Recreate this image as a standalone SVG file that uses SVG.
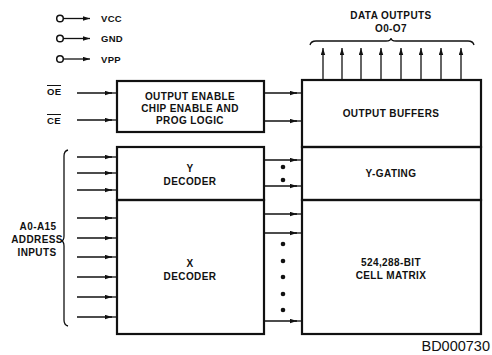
<svg xmlns="http://www.w3.org/2000/svg" width="492" height="355" viewBox="0 0 492 355">
<defs>
<style>
.box{fill:none;stroke:#111;stroke-width:2.2}
.ln{fill:none;stroke:#111;stroke-width:1.3}
.t{font-family:"Liberation Sans",Arial,sans-serif;font-weight:bold;font-size:10px;letter-spacing:0.4px;fill:#111;text-anchor:middle}
.s{font-family:"Liberation Sans",Arial,sans-serif;font-weight:bold;font-size:9.5px;letter-spacing:0.3px;fill:#111}
.dot{fill:#111}
</style>
<marker id="arr" viewBox="0 0 7 5" refX="7" refY="2.5" markerWidth="7" markerHeight="5" markerUnits="userSpaceOnUse" orient="auto">
<path d="M0,0.3 L7,2.5 L0,4.7 Z" fill="#111"/>
</marker>
</defs>
<rect width="492" height="355" fill="#fff"/>

<g id="power">
<circle cx="60" cy="18.5" r="3.3" fill="none" stroke="#111" stroke-width="1.5"/>
<circle cx="60" cy="38.5" r="3.3" fill="none" stroke="#111" stroke-width="1.5"/>
<circle cx="60" cy="59" r="3.3" fill="none" stroke="#111" stroke-width="1.5"/>
<text class="s" x="101" y="22">VCC</text>
<text class="s" x="101" y="42">GND</text>
<text class="s" x="101" y="62.5">VPP</text>
</g>

<g id="labels">
<text class="s" x="47" y="95">OE</text>
<line x1="47" y1="85.5" x2="61" y2="85.5" stroke="#111" stroke-width="1"/>
<text class="s" x="47" y="124">CE</text>
<line x1="47" y1="114.5" x2="61" y2="114.5" stroke="#111" stroke-width="1"/>
<text class="t" x="38" y="230">A0-A15</text>
<text class="t" x="37" y="243">ADDRESS</text>
<text class="t" x="37" y="256">INPUTS</text>
<text class="t" x="391" y="19">DATA OUTPUTS</text>
<text class="t" x="391" y="32">O0-O7</text>
<path class="ln" d="M68,150 Q64,151 64,156 L64,236 Q64,241 61,241 Q64,241 64,246 L64,320 Q64,325 68,326"/>
<path class="ln" d="M310,45 Q311,41 316,41 L386,41 Q391,41 391,38 Q391,41 396,41 L468,41 Q473,41 474,45"/>
</g>

<g id="logic">
<rect class="box" x="117" y="81" width="147" height="51"/>
<text class="t" x="190" y="100">OUTPUT ENABLE</text>
<text class="t" x="190" y="112">CHIP ENABLE AND</text>
<text class="t" x="190" y="124">PROG LOGIC</text>
</g>
<g id="ydecoder">
<rect class="box" x="117" y="147" width="147" height="53"/>
<text class="t" x="190" y="172">Y</text>
<text class="t" x="190" y="185">DECODER</text>
</g>
<g id="xdecoder">
<rect class="box" x="117" y="200" width="147" height="134"/>
<text class="t" x="190" y="267">X</text>
<text class="t" x="190" y="280">DECODER</text>
</g>
<g id="buffers">
<rect class="box" x="302" y="80" width="179" height="67"/>
<text class="t" x="391" y="117">OUTPUT BUFFERS</text>
</g>
<g id="ygating">
<rect class="box" x="302" y="147" width="179" height="53"/>
<text class="t" x="391" y="177">Y-GATING</text>
</g>
<g id="matrix">
<rect class="box" x="302" y="200" width="179" height="134"/>
<text class="t" x="391" y="266">524,288-BIT</text>
<text class="t" x="391" y="279">CELL MATRIX</text>
</g>

<g id="connectors">
<line class="ln" x1="63.5" y1="18.5" x2="90" y2="18.5" marker-end="url(#arr)"/>
<line class="ln" x1="63.5" y1="38.5" x2="90" y2="38.5" marker-end="url(#arr)"/>
<line class="ln" x1="63.5" y1="59" x2="90" y2="59" marker-end="url(#arr)"/>
<line class="ln" x1="77" y1="93" x2="112" y2="93" marker-end="url(#arr)"/><line class="ln" x1="110" y1="93" x2="117" y2="93"/>
<line class="ln" x1="77" y1="120" x2="112" y2="120" marker-end="url(#arr)"/><line class="ln" x1="110" y1="120" x2="117" y2="120"/>
<g>
<line class="ln" x1="77" y1="157" x2="112" y2="157" marker-end="url(#arr)"/><line class="ln" x1="110" y1="157" x2="117" y2="157"/>
<line class="ln" x1="77" y1="173" x2="112" y2="173" marker-end="url(#arr)"/><line class="ln" x1="110" y1="173" x2="117" y2="173"/>
<line class="ln" x1="77" y1="190" x2="112" y2="190" marker-end="url(#arr)"/><line class="ln" x1="110" y1="190" x2="117" y2="190"/>
<line class="ln" x1="77" y1="218" x2="112" y2="218" marker-end="url(#arr)"/><line class="ln" x1="110" y1="218" x2="117" y2="218"/>
<line class="ln" x1="77" y1="238" x2="112" y2="238" marker-end="url(#arr)"/><line class="ln" x1="110" y1="238" x2="117" y2="238"/>
<line class="ln" x1="77" y1="257" x2="112" y2="257" marker-end="url(#arr)"/><line class="ln" x1="110" y1="257" x2="117" y2="257"/>
<line class="ln" x1="77" y1="277" x2="112" y2="277" marker-end="url(#arr)"/><line class="ln" x1="110" y1="277" x2="117" y2="277"/>
<line class="ln" x1="77" y1="297" x2="112" y2="297" marker-end="url(#arr)"/><line class="ln" x1="110" y1="297" x2="117" y2="297"/>
<line class="ln" x1="77" y1="317" x2="112" y2="317" marker-end="url(#arr)"/><line class="ln" x1="110" y1="317" x2="117" y2="317"/>
</g>
<g>
<line class="ln" x1="264" y1="93" x2="297" y2="93" marker-end="url(#arr)"/><line class="ln" x1="295" y1="93" x2="302" y2="93"/>
<line class="ln" x1="264" y1="121" x2="297" y2="121" marker-end="url(#arr)"/><line class="ln" x1="295" y1="121" x2="302" y2="121"/>
<line class="ln" x1="264" y1="160" x2="297" y2="160" marker-end="url(#arr)"/><line class="ln" x1="295" y1="160" x2="302" y2="160"/>
<line class="ln" x1="264" y1="186" x2="297" y2="186" marker-end="url(#arr)"/><line class="ln" x1="295" y1="186" x2="302" y2="186"/>
<line class="ln" x1="264" y1="214" x2="297" y2="214" marker-end="url(#arr)"/><line class="ln" x1="295" y1="214" x2="302" y2="214"/>
<line class="ln" x1="264" y1="233" x2="297" y2="233" marker-end="url(#arr)"/><line class="ln" x1="295" y1="233" x2="302" y2="233"/>
<line class="ln" x1="264" y1="321" x2="297" y2="321" marker-end="url(#arr)"/><line class="ln" x1="295" y1="321" x2="302" y2="321"/>
</g>
<g>
<line class="ln" x1="323" y1="80" x2="323" y2="48" marker-end="url(#arr)"/>
<line class="ln" x1="342" y1="80" x2="342" y2="48" marker-end="url(#arr)"/>
<line class="ln" x1="361" y1="80" x2="361" y2="48" marker-end="url(#arr)"/>
<line class="ln" x1="381" y1="80" x2="381" y2="48" marker-end="url(#arr)"/>
<line class="ln" x1="401" y1="80" x2="401" y2="48" marker-end="url(#arr)"/>
<line class="ln" x1="421" y1="80" x2="421" y2="48" marker-end="url(#arr)"/>
<line class="ln" x1="441" y1="80" x2="441" y2="48" marker-end="url(#arr)"/>
<line class="ln" x1="461" y1="80" x2="461" y2="48" marker-end="url(#arr)"/>
</g>
<g>
<circle class="dot" cx="283" cy="167" r="2.3"/>
<circle class="dot" cx="283" cy="180" r="2.3"/>
<circle class="dot" cx="283" cy="244" r="2.3"/>
<circle class="dot" cx="283" cy="261" r="2.3"/>
<circle class="dot" cx="283" cy="277" r="2.3"/>
<circle class="dot" cx="283" cy="294" r="2.3"/>
<circle class="dot" cx="283" cy="310" r="2.3"/>
</g>
</g>

<text x="490" y="351" font-family="'Liberation Sans',Arial,sans-serif" font-size="14.5" fill="#111" text-anchor="end">BD000730</text>
</svg>
